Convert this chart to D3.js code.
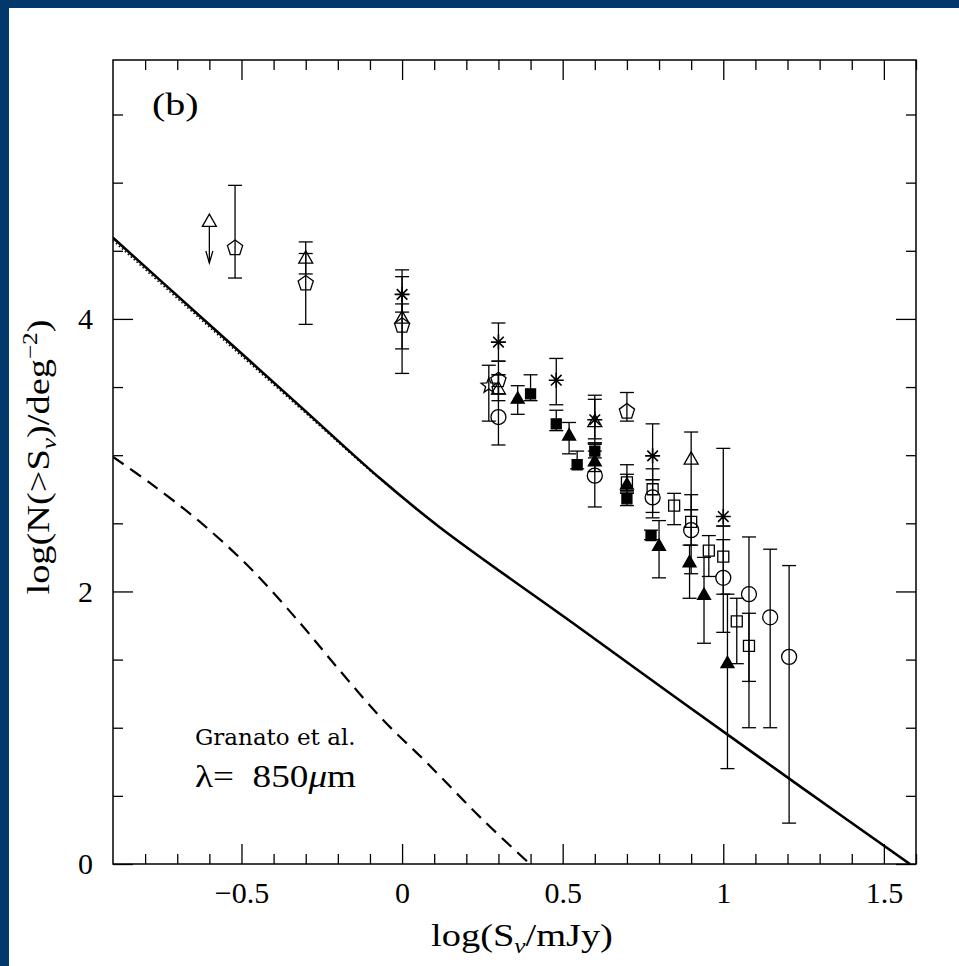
<!DOCTYPE html>
<html>
<head>
<meta charset="utf-8">
<script src="https://cdn.jsdelivr.net/npm/d3@7"></script>
<style>
  html, body { margin: 0; padding: 0; background: #fff; }
  svg { display: block; }
  .tick text { font-family: 'Liberation Serif', serif; font-size: 30px; fill: #000; }
  .tick line { stroke: #000; stroke-width: 1.3; }
</style>
</head>
<body>
<div id="chart"></div>
<script>
// Source counts at 850 micron, panel (b)

// Model curves [logS, logN]
const modelTotal = [[-0.9, 4.595], [-0.629, 4.02], [-0.318, 3.36], [-0.069, 2.83], [0.118, 2.47],
  [0.554, 1.73], [0.865, 1.20], [1.239, 0.57], [1.581, 0.0]]
const modelDotted = [[-0.9, 4.575], [-0.629, 4.0], [-0.318, 3.345], [-0.069, 2.825], [0.118, 2.47],
  [0.554, 1.73], [0.865, 1.20], [1.239, 0.57], [1.581, 0.0]]
const modelDashed = [[-0.9, 2.987], [-0.785, 2.796], [-0.629, 2.51], [-0.473, 2.172], [-0.318, 1.769],
  [-0.193, 1.417], [-0.059, 1.057], [0.078, 0.741], [0.252, 0.323], [0.398, 0.0]]

// Observed counts [logS, logN, low, high]
const openPentagon = [[-0.52, 4.52, 4.30, 4.98], [-0.30, 4.26, 3.96, 4.48], [0.00, 3.95, 3.60, 4.36],
  [0.30, 3.55, 3.45, 3.59], [0.70, 3.32, 3.25, 3.46]]
const openTriangle = [[-0.30, 4.44, 4.33, 4.565], [0.00, 4.00, 3.78, 4.11], [0.30, 3.48, 3.40, 3.59],
  [0.60, 3.24, 3.12, 3.41], [0.90, 2.965, 2.60, 3.17]]
const upperLimit = [[-0.60, 4.71, 4.41]]
const asterisk = [[0.00, 4.18, 4.05, 4.31], [0.30, 3.83, 3.69, 3.97], [0.48, 3.55, 3.37, 3.71],
  [0.60, 3.26, 3.09, 3.44], [0.78, 2.995, 2.82, 3.23], [1.00, 2.55, 2.48, 3.05]]
const openStar = [[0.27, 3.51, 3.25, 3.66]]
const openCircle = [[0.30, 3.28, 3.075, 3.69], [0.60, 2.85, 2.62, 3.09], [0.78, 2.69, 2.54, 2.82],
  [0.90, 2.45, 2.13, 2.60], [1.00, 2.10, 1.70, 2.48], [1.08, 1.98, 1.00, 2.40],
  [1.146, 1.81, 1.00, 2.31], [1.205, 1.52, 0.30, 2.19]]
const filledTriangle = [[0.36, 3.41, 3.30, 3.51], [0.52, 3.14, 3.01, 3.24], [0.60, 2.95, 2.88, 3.03],
  [0.70, 2.78, 2.72, 2.93], [0.80, 2.33, 2.10, 2.52], [0.895, 2.21, 1.95, 2.34],
  [0.94, 1.97, 1.62, 2.25], [1.013, 1.47, 0.70, 1.98]]
const filledSquare = [[0.40, 3.45, 3.40, 3.59], [0.48, 3.23, 3.18, 3.33], [0.545, 2.93, 2.90, 3.03],
  [0.60, 3.03, 2.98, 3.08], [0.70, 2.68, 2.63, 2.73], [0.775, 2.41, 2.38, 2.45]]
const openSquare = [[0.70, 2.80, 2.74, 2.86], [0.78, 2.75, 2.58, 2.90], [0.847, 2.63, 2.49, 2.72],
  [0.90, 2.51, 2.34, 2.71], [0.955, 2.30, 2.11, 2.41], [1.00, 2.255, 1.98, 2.38],
  [1.042, 1.78, 1.47, 1.95], [1.08, 1.60, 1.34, 1.84]]

// Axis ticks
const xMajor = [-0.5, 0, 0.5, 1, 1.5]
const xMinor = [-0.8, -0.7, -0.6, -0.4, -0.3, -0.2, -0.1, 0.1, 0.2, 0.3, 0.4, 0.6, 0.7, 0.8, 0.9,
  1.1, 1.2, 1.3, 1.4, 1.6]
const yMajor = [0, 2, 4]
const yMinor = [0.5, 1, 1.5, 2.5, 3, 3.5, 4.5, 5, 5.5]

const width = 959, height = 966
const frame = { left: 113, right: 916, top: 60, bottom: 864 }
const serif = 'Liberation Serif, serif'

const svg = d3.select('#chart').append('svg')
    .attr('width', width)
    .attr('height', height)

// Blue border on left and top
svg.append('rect').attr('width', width).attr('height', height).attr('fill', '#02386b')
svg.append('rect').attr('x', 9).attr('y', 8).attr('width', width - 9).attr('height', height - 8)
  .attr('fill', '#fff')

let x = d3.scaleLinear().domain([-0.9, 1.6]).range([frame.left, frame.right]),
    y = d3.scaleLinear().domain([0, 5.9]).range([frame.bottom, frame.top])

// Axes (ticks pointing inward)
function addAxis(axis, transform) {
  let g = svg.append('g').attr('transform', transform).call(axis)
  g.select('.domain').remove()
  return g
}
let fmt = d => d === 0 ? '0' : d3.format('')(d).replace('-', '\u2212')

addAxis(d3.axisBottom(x).tickValues(xMajor).tickSizeInner(-20).tickPadding(18).tickFormat(fmt),
  `translate(0,${frame.bottom})`)
addAxis(d3.axisBottom(x).tickValues(xMinor).tickSizeInner(-10).tickFormat(''),
  `translate(0,${frame.bottom})`)
addAxis(d3.axisTop(x).tickValues(xMajor).tickSizeInner(-20).tickFormat(''),
  `translate(0,${frame.top})`)
addAxis(d3.axisTop(x).tickValues(xMinor).tickSizeInner(-10).tickFormat(''),
  `translate(0,${frame.top})`)
addAxis(d3.axisLeft(y).tickValues(yMajor).tickSizeInner(-20).tickPadding(20).tickFormat(fmt),
  `translate(${frame.left},0)`)
addAxis(d3.axisLeft(y).tickValues(yMinor).tickSizeInner(-10).tickFormat(''),
  `translate(${frame.left},0)`)
addAxis(d3.axisRight(y).tickValues(yMajor).tickSizeInner(-20).tickFormat(''),
  `translate(${frame.right},0)`)
addAxis(d3.axisRight(y).tickValues(yMinor).tickSizeInner(-10).tickFormat(''),
  `translate(${frame.right},0)`)

svg.append('rect')
  .attr('x', frame.left).attr('y', frame.top)
  .attr('width', frame.right - frame.left).attr('height', frame.bottom - frame.top)
  .attr('fill', 'none').attr('stroke', '#000').attr('stroke-width', 1.5)

// Clip for curves
svg.append('clipPath').attr('id', 'plotclip').append('rect')
  .attr('x', frame.left).attr('y', frame.top)
  .attr('width', frame.right - frame.left).attr('height', frame.bottom - frame.top)

let line = d3.line().x(d => x(d[0])).y(d => y(d[1])).curve(d3.curveCatmullRom.alpha(0.5))
let curves = svg.append('g').attr('clip-path', 'url(#plotclip)')

curves.append('path').datum(modelDotted).attr('d', line)
  .attr('fill', 'none').attr('stroke', '#000').attr('stroke-width', 1.5).attr('stroke-dasharray', '1.5,2.5')
curves.append('path').datum(modelTotal).attr('d', line)
  .attr('fill', 'none').attr('stroke', '#000').attr('stroke-width', 2.6)
curves.append('path').datum(modelDashed).attr('d', line)
  .attr('fill', 'none').attr('stroke', '#000').attr('stroke-width', 2.2).attr('stroke-dasharray', '13,8')

// Symbol shapes, centred at 0,0
function shape(type, r) {
  let p = d3.path()
  if (type === 'circle') {
    p.arc(0, 0, r, 0, 2 * Math.PI)
  } else if (type === 'square') {
    p.rect(-r, -r, 2 * r, 2 * r)
  } else if (type === 'triangle') {
    p.moveTo(0, -r * 1.15); p.lineTo(r, r * 0.6); p.lineTo(-r, r * 0.6); p.closePath()
  } else if (type === 'pentagon') {
    for (let i = 0; i < 5; i++) {
      let a = -Math.PI / 2 + i * 2 * Math.PI / 5
      if (i === 0) p.moveTo(r * Math.cos(a), r * Math.sin(a))
      else p.lineTo(r * Math.cos(a), r * Math.sin(a))
    }
    p.closePath()
  } else if (type === 'star') {
    for (let i = 0; i < 10; i++) {
      let a = -Math.PI / 2 + i * Math.PI / 5, rr = i % 2 ? r * 0.42 : r
      if (i === 0) p.moveTo(rr * Math.cos(a), rr * Math.sin(a))
      else p.lineTo(rr * Math.cos(a), rr * Math.sin(a))
    }
    p.closePath()
  } else if (type === 'asterisk') {
    for (let i = 0; i < 4; i++) {
      let a = i * Math.PI / 4
      p.moveTo(-r * Math.cos(a), -r * Math.sin(a)); p.lineTo(r * Math.cos(a), r * Math.sin(a))
    }
  }
  return p.toString()
}

function plotSeries(data, type, r, filled) {
  let g = svg.append('g')
  let cap = 7
  data.forEach(d => {
    let cx = x(d[0])
    g.append('line').attr('x1', cx).attr('x2', cx).attr('y1', y(d[2])).attr('y2', y(d[3]))
      .attr('stroke', '#000').attr('stroke-width', 1.3)
    ;[d[2], d[3]].forEach(v => {
      g.append('line').attr('x1', cx - cap).attr('x2', cx + cap).attr('y1', y(v)).attr('y2', y(v))
        .attr('stroke', '#000').attr('stroke-width', 1.3)
    })
    g.append('path').attr('d', shape(type, r))
      .attr('transform', `translate(${cx},${y(d[1])})`)
      .attr('fill', filled ? '#000' : 'none')
      .attr('stroke', '#000').attr('stroke-width', type === 'asterisk' ? 1.6 : 1.3)
  })
}

plotSeries(openPentagon, 'pentagon', 8, false)
plotSeries(openTriangle, 'triangle', 7, false)
plotSeries(asterisk, 'asterisk', 7.5, false)
plotSeries(openStar, 'star', 8, false)
plotSeries(openCircle, 'circle', 7.5, false)
plotSeries(filledTriangle, 'triangle', 6.5, true)
plotSeries(filledSquare, 'square', 5, true)
plotSeries(openSquare, 'square', 5.5, false)

// Upper limit: triangle with downward arrow
upperLimit.forEach(d => {
  let cx = x(d[0]), ty = y(d[1]), by = y(d[2])
  svg.append('path').attr('d', shape('triangle', 7)).attr('transform', `translate(${cx},${ty})`)
    .attr('fill', 'none').attr('stroke', '#000').attr('stroke-width', 1.3)
  svg.append('line').attr('x1', cx).attr('x2', cx).attr('y1', ty + 4).attr('y2', by)
    .attr('stroke', '#000').attr('stroke-width', 1.3)
  svg.append('path').attr('d', `M${cx - 3.5},${by - 12}L${cx},${by}L${cx + 3.5},${by - 12}`)
    .attr('fill', 'none').attr('stroke', '#000').attr('stroke-width', 1.3)
})

// Labels (glyphs widened a little to look like Computer Modern)
svg.append('text').attr('transform', 'translate(152,115) scale(1.25,1)')
  .style('font-family', serif).style('font-size', '32px').text('(b)')

svg.append('text').attr('x', 195).attr('y', 745)
  .style('font-family', 'DejaVu Serif, serif').style('font-size', '23px').text('Granato et al.')

let lam = svg.append('text').attr('transform', 'translate(195,787) scale(1.2,1)')
  .style('font-family', serif).style('font-size', '31px')
lam.append('tspan').text('\u03bb=\u00a0 850')
lam.append('tspan').style('font-style', 'italic').text('\u03bc')
lam.append('tspan').text('m')

let xt = svg.append('text').attr('transform', 'translate(522,946) scale(1.2,1)').attr('text-anchor', 'middle')
  .style('font-family', serif).style('font-size', '32px')
xt.append('tspan').text('log(S')
xt.append('tspan').attr('dy', 7).style('font-size', '21px').style('font-style', 'italic').text('\u03bd')
xt.append('tspan').attr('dy', -7).text('/mJy)')

let yt = svg.append('text').attr('transform', 'translate(49,457) rotate(-90) scale(1.2,1)')
  .attr('text-anchor', 'middle')
  .style('font-family', serif).style('font-size', '32px')
yt.append('tspan').text('log(N(>S')
yt.append('tspan').attr('dy', 7).style('font-size', '21px').style('font-style', 'italic').text('\u03bd')
yt.append('tspan').attr('dy', -7).text(')/deg')
yt.append('tspan').attr('dy', -12).style('font-size', '21px').text('\u22122')
yt.append('tspan').attr('dy', 12).text(')')
</script>
</body>
</html>
